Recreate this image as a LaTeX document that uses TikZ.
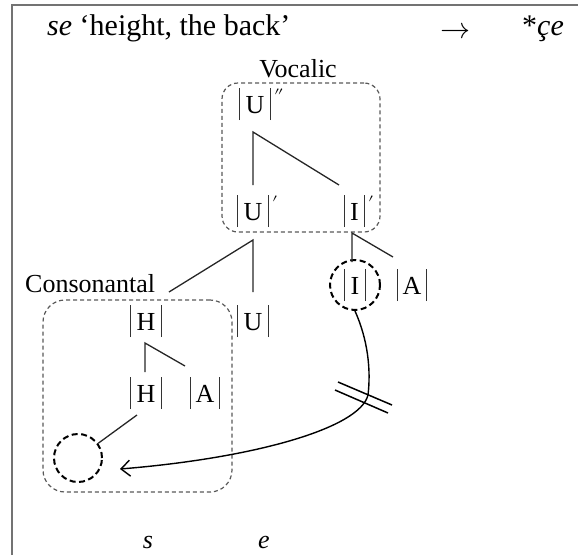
\documentclass[tikz,border=0pt]{standalone}
\usepackage{fontspec}
\usepackage{unicode-math}
\setmainfont{Liberation Serif}
\usetikzlibrary{arrows.meta}
\newcommand{\vbar}{{\color{black!80}\rule[-7pt]{0.9pt}{32pt}}}
\newcommand{\bx}[2][6pt]{\kern1pt\vbar\kern#1 #2\kern#1\vbar\kern1pt}
\newcommand{\pr}[1]{\kern2pt\raisebox{1pt}{$#1$}}
\tikzset{
  big/.style={inner sep=0, font=\fontsize{30}{34}\selectfont},
  lbl/.style={inner sep=0, anchor=base west, font=\fontsize{26}{30}\selectfont},
  tree/.style={line width=1.3pt, black!85},
  grp/.style={draw=black!65, dash pattern=on 4pt off 3pt, line width=1.2pt, inner sep=0},
  dcirc/.style={circle, draw, dash pattern=on 6pt off 3.5pt, line width=2pt, inner sep=0},
  frame/.style={draw=black!55, line width=2pt},
}
\begin{document}
\begin{tikzpicture}[x=1pt,y=-1pt]
\useasboundingbox (0,0) rectangle (578,555);
\draw[frame] (12,555) -- (12,5) -- (578,5);

% header
\node[big, anchor=base west] (title) at (47,35) {\textit{se} ‘height, the back’};
\node[big] (arr) at (455,31) {$\rightarrow$};
\node[big, anchor=base west] (star) at (522,35) {*\textit{çe}};

% group boxes
\node[grp, rounded corners=16pt, minimum width=158, minimum height=149] (vocbox) at (301,157.5) {};
\node[grp, rounded corners=22pt, minimum width=189, minimum height=192] (conbox) at (137.5,396) {};
\node[lbl, anchor=base] (voc) at (298,77) {Vocalic};
\node[lbl] (con) at (25,292) {Consonantal};

% segments
\node[lbl] (Uvv) at (237.5,113) {\bx{U}\pr{''}};
\node[lbl] (Uv) at (235.5,220) {\bx{U}\pr{'}};
\node[lbl] (Iv) at (342.5,220) {\bx[5.5pt]{I}\pr{'}};
\node[lbl] (Hc) at (128.5,330) {\bx{H}};
\node[lbl] (Ur) at (235.5,330) {\bx{U}};
\node[lbl] (Hl) at (128.5,402) {\bx{H}};
\node[lbl] (Al) at (188.5,402) {\bx[5pt]{A}};
\node[lbl, anchor=base] (Ii) at (355,294) {\bx[5.5pt]{I}};
\node[lbl] (Ai) at (395.5,294) {\bx[5pt]{A}};
\node[dcirc, minimum size=50] (ci) at (355,285) {};
\node[dcirc, minimum size=48] (sc) at (78,458) {};
\node[lbl, anchor=base] (s) at (148,548) {\textit{s}};
\node[lbl, anchor=base] (e) at (264,548) {\textit{e}};

% branch points
\coordinate (b1) at (253,132); \coordinate (b1l) at (253,185); \coordinate (b1r) at (339,185);
\coordinate (b2) at (253,240); \coordinate (b2l) at (169,292); \coordinate (b2r) at (253,292);
\coordinate (b3) at (352,233); \coordinate (b3l) at (352,262); \coordinate (b3r) at (393,257);
\coordinate (b4) at (145,343); \coordinate (b4l) at (145,372); \coordinate (b4r) at (185,366);
\coordinate (b5) at (137,415);
\coordinate (cross) at (368,395);
\coordinate (tipend) at (120,469);

\draw[tree] (b1l) -- (b1) -- (b1r);
\draw[tree] (b2l) -- (b2) -- (b2r);
\draw[tree] (b3l) -- (b3) -- (b3r);
\draw[tree] (b4l) -- (b4) -- (b4r);
\draw[tree] (b5) -- (sc);

% delinking arrow
\draw[line width=1.4pt, -{Straight Barb[length=9pt,width=16pt,line width=1.4pt]}]
  (ci.south) .. controls (368,340) and (371,370) .. (cross)
  .. controls (360,428) and (255,458) .. (tipend);
\draw[line width=1.5pt] (338,382) -- (392,405);
\draw[line width=1.5pt] (335,390) -- (388,413);
\end{tikzpicture}
\end{document}
